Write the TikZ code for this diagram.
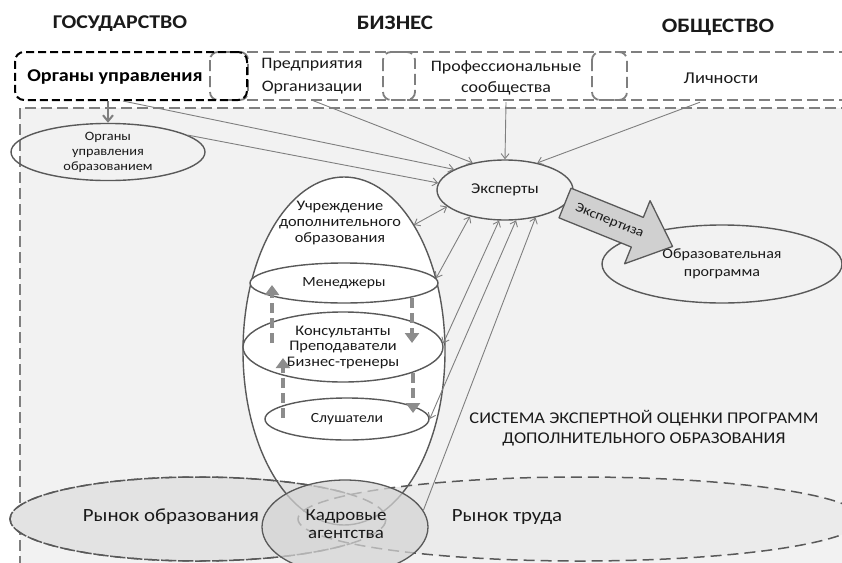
\documentclass[tikz,border=0pt]{standalone}
\usepackage{fontspec}
\setmainfont{Carlito}[FakeStretch=1.12]
\usetikzlibrary{arrows.meta,shapes.geometric,calc}
\definecolor{bgc}{HTML}{F2F2F2}
\definecolor{edgec}{HTML}{595959}
\definecolor{arrc}{HTML}{7F7F7F}
\definecolor{dashc}{HTML}{8C8C8C}
\definecolor{bandc}{HTML}{7F7F7F}
\definecolor{txtc}{HTML}{1A1A1A}
\definecolor{mktL}{HTML}{E3E3E3}
\definecolor{mktR}{HTML}{EBEBEB}
\definecolor{kadc}{HTML}{D4D4D4}
\definecolor{blockc}{HTML}{D0D0D0}
\newcommand\fz[2]{\fontsize{#1pt}{#2pt}\selectfont}
\begin{document}
\begin{tikzpicture}[x=1pt,y=-1pt,
  edge/.style={draw=edgec, line width=1.4pt},
  ell/.style={ellipse, edge, inner sep=0pt, align=center, text=txtc},
  arr/.style={draw=arrc, line width=0.9pt, -{Straight Barb[length=5pt,width=8pt]}},
  darr/.style={draw=arrc, line width=0.9pt, {Straight Barb[length=5pt,width=8pt]}-{Straight Barb[length=5pt,width=8pt]}},
  dsh/.style={draw=dashc, line width=3.6pt, dash pattern=on 10pt off 5pt, -{Triangle[length=10pt,width=14pt]}},
  band/.style={draw=bandc, line width=1.8pt, dash pattern=on 11pt off 5pt},
  mkt/.style={ellipse, draw=edgec, line width=1.5pt, dash pattern=on 11pt off 6pt, inner sep=0pt},
  lbl/.style={inner sep=0pt, align=center, text=txtc},
]
\useasboundingbox (0,0) rectangle (842,562);
\clip (0,0) rectangle (842,562);
\fill[white] (0,0) rectangle (842,562);

% big system area
\draw[fill=bgc, draw=bandc, line width=1.5pt, dash pattern=on 11pt off 5pt] (20,108) rectangle (860,580);

% headers
\node[lbl, font=\fz{19.5}{24}\bfseries] (gos) at (120,23.5) {ГОСУДАРСТВО};
\node[lbl, font=\fz{20.5}{24}\bfseries] (biz) at (395,22.5) {БИЗНЕС};
\node[lbl, font=\fz{20.5}{24}\bfseries] (obs) at (718,27.5) {ОБЩЕСТВО};

% top band
\draw[band] (247,52) -- (860,52);
\draw[band] (247,100) -- (860,100);
\draw[band, rounded corners=8pt] (210,52) rectangle (248,100);
\draw[band, rounded corners=8pt] (383,52) rectangle (415,100);
\draw[band, rounded corners=8pt] (592,52) rectangle (627,100);
\node[draw=black, line width=2pt, dash pattern=on 8pt off 4pt, rounded corners=9pt,
      minimum width=232pt, minimum height=48pt, inner sep=0pt] (org) at (131,76) {};
\node[lbl, text=black, font=\fz{18}{20}\bfseries] (orgt) at (115,77) {Органы управления};
\node[lbl, minimum height=48pt, font=\fz{16}{23.5}] (pred) at (312,76) {Предприятия\\Организации};
\node[lbl, minimum height=48pt, font=\fz{16}{21.5}] (prof) at (506,78) {Профессиональные\\сообщества};
\node[lbl, minimum height=48pt, font=\fz{16.5}{18}] (lich) at (721,78) {Личности};

% ellipses
\node[ell, minimum width=194pt, minimum height=56pt, font=\fz{12.8}{15}] (ouo) at (108,152) {Органы\\управления\\образованием};
\node[ell, minimum width=136pt, minimum height=60pt, font=\fz{15}{17}] (exp) at (505,190) {Эксперты};
\node[ell, minimum width=240pt, minimum height=78pt, font=\fz{14.3}{18}] (prog) at (722,264) {Образовательная\\программа};

% egg
\node[ellipse, fill=white, inner sep=0pt, minimum width=202pt, minimum height=348pt] (egg) at (344,351) {};

% markets
\node[mkt, fill=mktL, minimum width=376pt, minimum height=84pt] (mo) at (198,519) {};
\node[mkt, fill=mktR, minimum width=564pt, minimum height=84pt] (mt) at (580,519) {};
\draw[mkt, draw=edgec] (mo.center) ellipse[x radius=188, y radius=42];

% egg outline
\draw[edge] (egg.center) ellipse[x radius=101, y radius=174];
\node[lbl, font=\fz{14.6}{16}] (uch) at (340,223) {Учреждение\\дополнительного\\образования};

% staff ellipses
\node[ell, fill=white, minimum width=188pt, minimum height=40pt, font=\fz{14}{16}] (men) at (344,283) {Менеджеры};
\node[ell, fill=white, minimum width=200pt, minimum height=70pt, font=\fz{14.6}{15.5}] (kons) at (343,347) {Консультанты\\Преподаватели\\Бизнес-тренеры};
\node[ell, fill=white, minimum width=164pt, minimum height=42pt, font=\fz{14}{16}] (sl) at (347,419) {Слушатели};

% agencies
\node[ellipse, draw=edgec, line width=1.3pt, fill=kadc, fill opacity=0.72,
      minimum width=166pt, minimum height=94pt, inner sep=0pt] (kad) at (345,527) {};
\node[lbl, font=\fz{16.9}{18.5}] (kadt) at (346,524) {Кадровые\\агентства};
\node[lbl, font=\fz{18.6}{20}] (rot) at (171,517) {Рынок образования};
\node[lbl, font=\fz{18.6}{20}] (rtt) at (507,517) {Рынок труда};

% system title
\node[lbl, font=\fz{16.4}{19.5}] (sys) at (644,428) {СИСТЕМА ЭКСПЕРТНОЙ ОЦЕНКИ ПРОГРАММ\\ДОПОЛНИТЕЛЬНОГО ОБРАЗОВАНИЯ};

% block arrow Экспертиза
\begin{scope}[shift={(565,203)}, rotate=-22]
  \draw[fill=blockc, draw=edgec, line width=1.3pt, line join=round]
    (0,-16) -- (78,-16) -- (78,-34) -- (116,0) -- (78,34) -- (78,16) -- (0,16) -- cycle;
  \node[lbl, rotate=-22, font=\fz{13.5}{15}] (expz) at (48,0) {Экспертиза};
\end{scope}

% connectors from top band
\draw[draw=arrc, line width=2pt, -{Straight Barb[length=6pt,width=10pt]}] (ouo.north |- org.south) -- (ouo.north);
\draw[arr] ([xshift=-8pt]org.south) -- (exp.158);
\draw[arr] (ouo.12) -- (exp.174);
\draw[arr] (pred.south) -- (exp.140);
\draw[arr] (prof.south) -- (exp.north);
\draw[arr] ([xshift=-21pt]lich.south) -- (exp.40);

% connectors between experts and the institution
\draw[darr] (egg.61) -- (exp.196);
\draw[darr] (men.3) -- (exp.217);
\draw[darr] (kons.2) -- (exp.259);
\draw[darr] (sl.east) -- (exp.290);
\draw[arr] (kad.12) -- (exp.318);

% dashed flows inside institution
\draw[dsh] ($(kons.center)+(-71,-4)$) -- ($(men.center)+(-72,2)$);
\draw[dsh] ($(men.center)+(68,15)$) -- ($(kons.center)+(69,-4)$);
\draw[dsh] ($(sl.center)+(-64,-1)$) -- ($(kons.center)+(-60,11)$);
\draw[dsh] ($(kons.center)+(70,26)$) -- ($(sl.center)+(66,-6)$);
\end{tikzpicture}
\end{document}
